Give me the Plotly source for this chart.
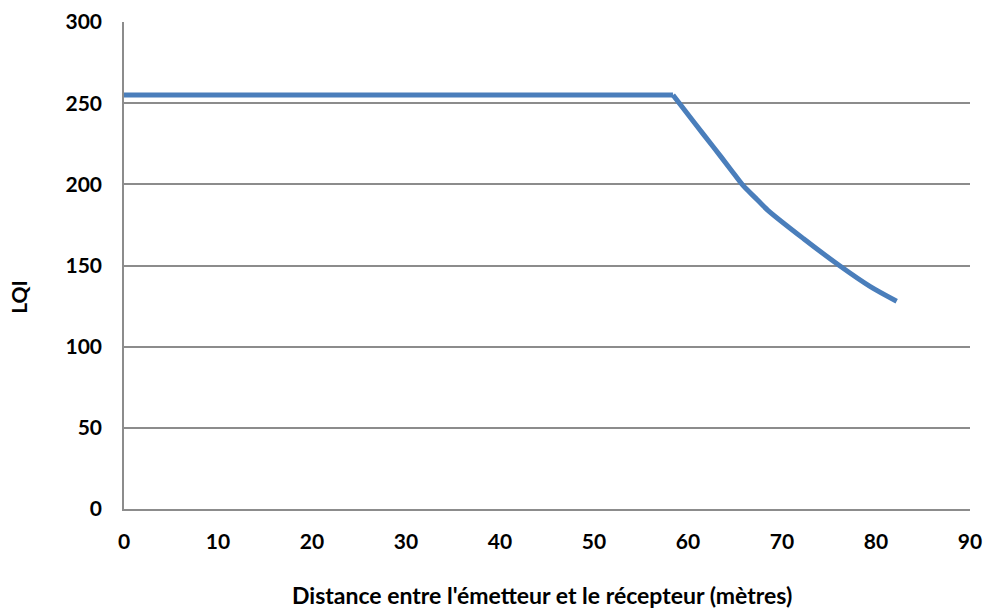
import plotly.graph_objects as go

# Data
distance = [0, 58.4, 60.6, 62.7, 64.5, 65.9, 67.2, 68.5, 72.3, 76.1, 79.4, 82.2]
lqi = [255, 255, 238.5, 223, 209.5, 199, 191.5, 184, 166.5, 150, 137, 128]

x_ticks = [0, 10, 20, 30, 40, 50, 60, 70, 80, 90]
y_ticks = [0, 50, 100, 150, 200, 250, 300]

x_title = "Distance entre l'émetteur et le récepteur (mètres)"
y_title = "LQI"

FONT = "Lato, 'Open Sans', sans-serif"
GRID = "#8C8C8C"
LINE = dict(color="#4A7EBB", width=5)

# saturation plateau (first two points) then the decreasing part, same series
fig = go.Figure()
fig.add_trace(go.Scatter(
    x=distance[:2], y=lqi[:2], mode="lines", line=LINE,
    showlegend=False, hoverinfo="x+y",
))
fig.add_trace(go.Scatter(
    x=distance[1:], y=lqi[1:], mode="lines",
    line=dict(**LINE, shape="spline", smoothing=0.8),
    showlegend=False, hoverinfo="x+y",
))

fig.update_layout(
    width=986, height=608,
    margin=dict(l=124, r=16, t=22, b=99),
    paper_bgcolor="white", plot_bgcolor="white",
    font=dict(family=FONT, size=21, color="black"),
    xaxis=dict(
        range=[0, 90], tickvals=x_ticks, ticktext=[str(v) for v in x_ticks],
        showgrid=False, zeroline=False, automargin=False,
        showline=True, linecolor=GRID, linewidth=1.5,
        ticks="", ticklabelstandoff=13,
        tickfont=dict(family=FONT, size=21, color="black", weight="bold"),
    ),
    yaxis=dict(
        range=[0, 300], tickvals=y_ticks, ticktext=[str(v) for v in y_ticks],
        showgrid=True, gridcolor=GRID, gridwidth=1.5, zeroline=False, automargin=False,
        showline=True, linecolor=GRID, linewidth=1.5,
        ticks="", ticklabelstandoff=16,
        tickfont=dict(family=FONT, size=21, color="black", weight="bold"),
    ),
    annotations=[
        dict(text=x_title, xref="paper", yref="paper", x=0.4945, y=-0.177,
             xanchor="center", yanchor="middle", showarrow=False,
             font=dict(family=FONT, size=23, color="black", weight="bold")),
        dict(text=y_title, xref="paper", yref="paper", x=-0.124, y=0.4358,
             xanchor="center", yanchor="middle", showarrow=False, textangle=-90,
             font=dict(family=FONT, size=21, color="black", weight="bold")),
    ],
)

fig.write_html(
    "out.html",
    config={"displayModeBar": False},
    post_script=(
        "document.body.style.margin='0';"
        "document.body.style.overflow='hidden';"
        "document.documentElement.style.overflow='hidden';"
    ),
)
